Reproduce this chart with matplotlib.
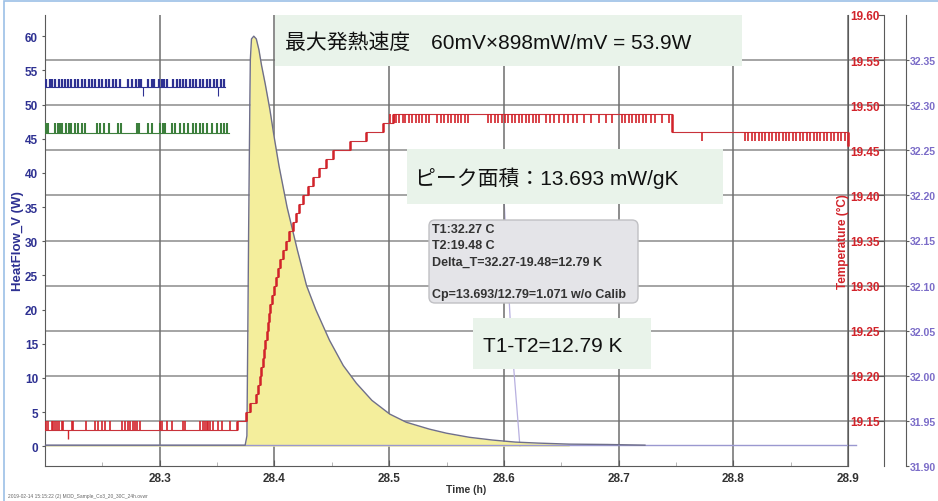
import matplotlib
matplotlib.use("Agg")
import matplotlib.pyplot as plt
import numpy as np
from matplotlib.patches import FancyBboxPatch, Rectangle

plt.rcParams['font.family'] = ['Liberation Sans', 'Noto Sans CJK JP', 'DejaVu Sans']

# ---- data ----
x_ticks = [28.3, 28.4, 28.5, 28.6, 28.7, 28.8, 28.9]
hf_ticks = [0, 5, 10, 15, 20, 25, 30, 35, 40, 45, 50, 55, 60]
temp_ticks = [19.15, 19.20, 19.25, 19.30, 19.35, 19.40, 19.45, 19.50, 19.55, 19.60]
t1_ticks = [31.90, 31.95, 32.00, 32.05, 32.10, 32.15, 32.20, 32.25, 32.30, 32.35]

# heat flow peak (W)
hf_time = [28.2000, 28.3745, 28.3760, 28.3768, 28.3775, 28.3786, 28.3790, 28.3800,
           28.3820, 28.3842, 28.3865, 28.3888, 28.3920, 28.3960, 28.4000, 28.4040,
           28.4075, 28.4110, 28.4150, 28.4200, 28.4280, 28.4360, 28.4480, 28.4600,
           28.4715, 28.4850, 28.5005, 28.5150, 28.5350, 28.5500, 28.5700, 28.5900,
           28.6100, 28.6300, 28.6570, 28.6900, 28.7230]
hf_val = [0.15, 0.15, 1.5, 16.7, 31.3, 50.8, 56.6, 59.6,
          60.0, 59.6, 58.0, 55.7, 53.0, 49.3, 45.0, 41.0,
          38.0, 35.0, 32.2, 28.7, 23.5, 20.0, 15.5, 11.8,
          9.2, 6.7, 4.7, 3.5, 2.5, 1.9, 1.3, 0.9,
          0.6, 0.45, 0.3, 0.25, 0.15]
fill_end = 28.657
baseline_end = 28.907

# blue trace (level 52.5 with spikes to 53.8)
blue_end = 28.357
blue_spikes = [28.201, 28.204, 28.206, 28.209, 28.212, 28.215, 28.217, 28.220, 28.223, 28.226,
               28.229, 28.232, 28.235, 28.238, 28.241, 28.244, 28.247, 28.250, 28.253, 28.256,
               28.259, 28.262, 28.265, 28.272, 28.276, 28.279, 28.282, 28.284, 28.290, 28.293,
               28.295, 28.299, 28.302, 28.304, 28.306, 28.312, 28.315, 28.318, 28.320, 28.323,
               28.326, 28.329, 28.332, 28.335, 28.338, 28.341, 28.344, 28.347, 28.350, 28.353, 28.356]
blue_dips = [28.2854, 28.3507]

# green trace (level 45.9 with spikes to 47.3)
green_end = 28.360
green_spikes = [28.201, 28.203, 28.209, 28.211, 28.213, 28.215, 28.218, 28.221, 28.223, 28.226,
                28.229, 28.232, 28.235, 28.245, 28.248, 28.251, 28.256, 28.264, 28.266, 28.280,
                28.282, 28.290, 28.293, 28.300, 28.303, 28.305, 28.311, 28.313, 28.318, 28.321,
                28.325, 28.329, 28.332, 28.335, 28.338, 28.341, 28.346, 28.350, 28.353, 28.356, 28.359]

# temperature T2 (stepped, 0.01 C resolution)
temp_time = [28.2000, 28.3670, 28.3755, 28.3790, 28.3840, 28.3855, 28.3870, 28.3885, 28.3900,
             28.3912, 28.3922, 28.3935, 28.3945, 28.3955, 28.3965, 28.3980, 28.3995, 28.4012,
             28.4030, 28.4050, 28.4072, 28.4100, 28.4128, 28.4158, 28.4185, 28.4215, 28.4250,
             28.4290, 28.4335, 28.4390, 28.4450, 28.4510, 28.4660, 28.4800, 28.4950, 28.5030,
             28.7470, 28.9000]
temp_val = [19.14, 19.15, 19.16, 19.17, 19.18, 19.19, 19.20, 19.21, 19.22,
            19.23, 19.24, 19.25, 19.26, 19.27, 19.28, 19.29, 19.30, 19.31,
            19.32, 19.33, 19.34, 19.35, 19.36, 19.37, 19.38, 19.39, 19.40,
            19.41, 19.42, 19.43, 19.44, 19.45, 19.46, 19.47, 19.48, 19.49,
            19.47, 19.455]
base_spikes = [28.2009, 28.2026, 28.2061, 28.2070, 28.2087, 28.2105, 28.2122, 28.2148, 28.2157,
               28.2235, 28.2244, 28.2357, 28.2436, 28.2462, 28.2497, 28.2523, 28.2566, 28.2671,
               28.2697, 28.2723, 28.2740, 28.2767, 28.2784, 28.2801, 28.2828, 28.3002, 28.3019,
               28.3063, 28.3106, 28.3202, 28.3220, 28.3350, 28.3376, 28.3394, 28.3411, 28.3420,
               28.3437, 28.3463, 28.3507, 28.3542, 28.3611]
base_dips = [28.2200]
plateau_spikes = [28.501, 28.504, 28.506, 28.509, 28.512, 28.514, 28.517, 28.520, 28.523, 28.526,
                  28.529, 28.532, 28.535, 28.542, 28.545, 28.548, 28.551, 28.554, 28.557, 28.560,
                  28.563, 28.566, 28.569, 28.586, 28.589, 28.592, 28.595, 28.598, 28.601, 28.604,
                  28.607, 28.610, 28.613, 28.616, 28.619, 28.622, 28.625, 28.628, 28.631, 28.637,
                  28.640, 28.644, 28.648, 28.652, 28.656, 28.660, 28.664, 28.670, 28.676, 28.683,
                  28.689, 28.694, 28.703, 28.706, 28.709, 28.712, 28.715, 28.718, 28.721, 28.724,
                  28.728, 28.732, 28.738, 28.744]
late_spikes = [28.773, 28.810, 28.813, 28.816, 28.819, 28.822, 28.825, 28.828, 28.831, 28.834,
               28.837, 28.840, 28.843, 28.846, 28.849, 28.852, 28.855, 28.858, 28.861, 28.864,
               28.867, 28.870, 28.873, 28.876, 28.879, 28.882, 28.885, 28.888, 28.891, 28.894, 28.897]

# T1 drop (purple axis)
t1_drop_time = [28.6000, 28.6060, 28.6140]
t1_drop_val = [32.20, 32.05, 31.922]

# ---- layout helpers (pixels of the 938x502 picture) ----
W, Hh = 938, 502
fig = plt.figure(figsize=(W / 100, Hh / 100), dpi=100)


def fx(px):
    return px / W


def fy(py):
    return 1 - py / Hh


X0, X1 = 28.2, 28.9
L, R_h, R_t, R_p, TOP, BOT = 45, 848, 884, 906, 16, 467


def xlim_for(right_px):
    return (X0, X0 + (X1 - X0) * (right_px - L) / (R_h - L))


grid_c = '#8c8c8c'
spine_c = '#5a5a5a'
navy = '#2E3192'
red = '#D2232A'
purple = '#7B6CC8'

ax_p = fig.add_axes([fx(L), fy(BOT), fx(R_p) - fx(L), fy(TOP) - fy(BOT)])
ax_h = fig.add_axes([fx(L), fy(BOT), fx(R_h) - fx(L), fy(TOP) - fy(BOT)])
ax_t = fig.add_axes([fx(L), fy(BOT), fx(R_t) - fx(L), fy(TOP) - fy(BOT)])
ax_p.set_zorder(0)
ax_h.set_zorder(1)
ax_t.set_zorder(2)
ax_h.patch.set_visible(False)
ax_t.patch.set_visible(False)

# purple T1 axis (back, carries horizontal grid)
ax_p.set_xlim(*xlim_for(R_p))
ax_p.set_ylim(31.90, 32.40)
ax_p.set_yticks(t1_ticks)
ax_p.set_yticklabels([f'{v:.2f}' for v in t1_ticks])
ax_p.yaxis.tick_right()
ax_p.tick_params(axis='y', colors=spine_c, labelcolor=purple, length=2, pad=1, labelsize=7.6)
for lab in ax_p.get_yticklabels():
    lab.set_fontweight('bold')
ax_p.set_xticks([])
for s in ['top', 'left', 'bottom']:
    ax_p.spines[s].set_visible(False)
ax_p.spines['right'].set_color(spine_c)
ax_p.grid(axis='y', color=grid_c, lw=1.1)
ax_p.get_ygridlines()[0].set_visible(False)
ax_p.plot(t1_drop_time, t1_drop_val, color='#B8B0E0', lw=0.9)

# heat flow axis
ax_h.set_xlim(X0, X1)
ax_h.set_ylim(-2.9, 63.1)
ax_h.set_axisbelow(True)
ax_h.set_xticks(x_ticks)
ax_h.set_xticks([28.25, 28.35, 28.45, 28.55, 28.65, 28.75, 28.85], minor=True)
ax_h.set_xticklabels([f'{v:.1f}' for v in x_ticks])
ax_h.set_yticks(hf_ticks)
ax_h.tick_params(axis='x', which='major', direction='in', length=4, colors=spine_c,
                 labelcolor='#333333', labelsize=8.5, pad=4)
ax_h.tick_params(axis='x', which='minor', direction='in', length=3, colors='#aaaaaa')
ax_h.tick_params(axis='y', direction='out', length=2, colors=spine_c,
                 labelcolor=navy, labelsize=8.5, pad=3)
for lab in ax_h.get_xticklabels() + ax_h.get_yticklabels():
    lab.set_fontweight('bold')
ax_h.spines['top'].set_visible(False)
for s in ['left', 'right', 'bottom']:
    ax_h.spines[s].set_color(spine_c)
ax_h.grid(axis='x', color='#6e6e6e', lw=1.1)

hf_t = np.array(hf_time)
hf_v = np.array(hf_val)
m = hf_t <= fill_end
ax_h.fill_between(hf_t[m], 0, hf_v[m], color='#F4EE9C', lw=0, zorder=2)
ax_h.plot([X0, baseline_end], [0.15, 0.15], color='#9A98D0', lw=1.0, zorder=2, clip_on=False)
ax_h.plot(hf_time, hf_val, color='#6F6F8A', lw=1.0, zorder=3)

# blue and green traces
ax_h.plot([X0, blue_end], [52.5, 52.5], color=navy, lw=0.8, zorder=3)
ax_h.vlines(blue_spikes, 52.5, 53.8, color=navy, lw=1.6, zorder=3)
ax_h.vlines(blue_dips, 51.3, 52.5, color=navy, lw=0.8, zorder=3)
ax_h.plot([X0, green_end], [45.9, 45.9], color='#3C7F3C', lw=0.8, zorder=3)
ax_h.vlines(green_spikes, 45.9, 47.3, color='#3C7F3C', lw=1.5, zorder=3)

# temperature axis
ax_t.set_xlim(*xlim_for(R_t))
ax_t.set_ylim(19.10, 19.60)
ax_t.set_xticks([])
ax_t.yaxis.tick_right()
ax_t.set_yticks(temp_ticks)
ax_t.set_yticklabels([f'{v:.2f}' for v in temp_ticks])
ax_t.tick_params(axis='y', direction='in', length=4, colors=spine_c,
                 labelcolor=red, labelsize=8.5, pad=-24)
for lab in ax_t.get_yticklabels():
    lab.set_fontweight('bold')
for s in ['top', 'left', 'bottom']:
    ax_t.spines[s].set_visible(False)
ax_t.spines['right'].set_color(spine_c)

ax_t.plot(temp_time, temp_val, drawstyle='steps-post', color='#C8323A', lw=0.8)
ax_t.vlines(temp_time[1:], temp_val[:-1], temp_val[1:], color=red, lw=1.8)
ax_t.vlines(base_spikes, 19.14, 19.15, color=red, lw=1.2)
ax_t.vlines(base_dips, 19.13, 19.14, color=red, lw=1.0)
ax_t.vlines(plateau_spikes, 19.48, 19.49, color=red, lw=1.2)
ax_t.vlines(late_spikes, 19.46, 19.47, color=red, lw=1.2)
ax_t.text((843 - L) / (R_t - L), 0.5, 'Temperature (°C)', transform=ax_t.transAxes,
          rotation=90, ha='center', va='center', color=red, fontsize=8.5, fontweight='bold')

# axis titles
fig.text(fx(18), fy(241), 'HeatFlow_V (W)', rotation=90, ha='center', va='center',
         color=navy, fontsize=9.5, fontweight='bold')
fig.text(fx(466), fy(490), 'Time (h)', ha='center', va='center', color='#333333',
         fontsize=7.5, fontweight='bold')
fig.text(fx(8), fy(497), '2019-02-14 15:15:22 (2) MOD_Sample_Co3_20_30C_24h.ovwr',
         ha='left', va='center', color='#666666', fontsize=3.5)

# annotation boxes (positions in pixels)
tr = fig.dpi_scale_trans


def box(x0, y0, x1, y1, fc, ec='none', rounded=False):
    style = 'round,pad=0,rounding_size=0.06' if rounded else 'square,pad=0'
    p = FancyBboxPatch((x0 / 100, (Hh - y1) / 100), (x1 - x0) / 100, (y1 - y0) / 100,
                       boxstyle=style, transform=tr, facecolor=fc, edgecolor=ec, lw=1.0, zorder=5)
    fig.add_artist(p)


def label(x, y, s, **kw):
    fig.text(x / 100, (Hh - y) / 100, s, transform=tr, zorder=6, **kw)


green_bg = '#E9F3EA'
box(275, 16, 742, 67, green_bg)
label(285, 43, '最大発熱速度　60mV×898mW/mV = 53.9W', ha='left', va='center', fontsize=15, color='#111111')

box(407, 150, 723, 205, green_bg)
label(415, 178, 'ピーク面積：13.693 mW/gK', ha='left', va='center', fontsize=15, color='#111111')

box(429, 221, 638, 304, '#E4E4E8', ec='#C0C0C4', rounded=True)
info = ['T1:32.27 C', 'T2:19.48 C', 'Delta_T=32.27-19.48=12.79 K', '', 'Cp=13.693/12.79=1.071 w/o Calib']
for i, line in enumerate(info):
    label(432, 230 + 16.2 * i, line, ha='left', va='center', fontsize=9, fontweight='bold', color='#333333')

box(473, 319, 651, 370, green_bg)
label(483, 347, 'T1-T2=12.79 K', ha='left', va='center', fontsize=15, color='#111111')

# thin light-blue frame of the screenshot
fig.add_artist(Rectangle((fx(4), -0.1), 1.2, fy(2) + 0.1, transform=fig.transFigure,
                         fill=False, edgecolor='#9CC0E6', lw=1.2, zorder=7))

fig.savefig('out.png', dpi=100)
